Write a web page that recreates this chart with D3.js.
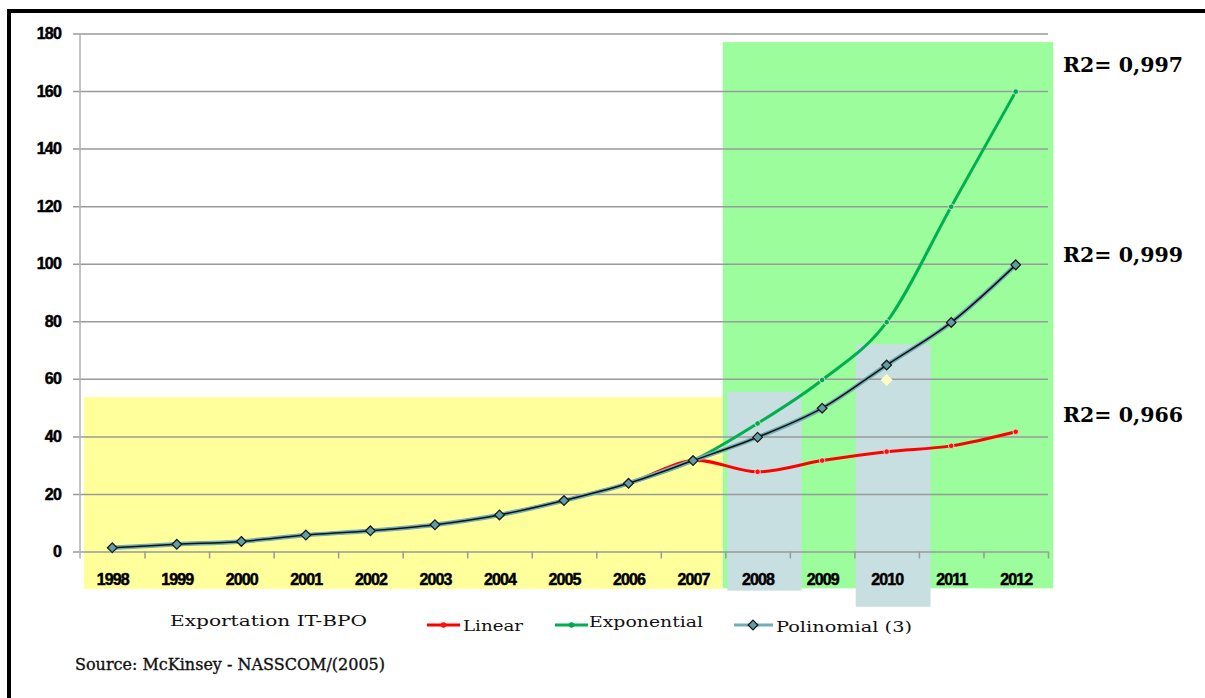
<!DOCTYPE html>
<meta charset="utf-8">
<html>
<head>
<script src="https://d3js.org/d3.v7.min.js"></script>
<style>
  body { margin: 0; background: #fff; }
  .tick text { font-family: "Liberation Sans", Arial, sans-serif; font-weight: bold; fill: #000; }
</style>
</head>
<body>
<svg id="chart" width="1205" height="698"></svg>
</body>
</html>
<script>

// Data
var years = [1998, 1999, 2000, 2001, 2002, 2003, 2004, 2005, 2006, 2007, 2008, 2009, 2010, 2011, 2012];
var polyValues   = [1.3, 2.5, 3.5, 5.7, 7.2, 9.3, 12.7, 17.7, 23.7, 31.6, 39.7, 49.8, 64.8, 79.6, 99.6];
var exportValues = [1.3, 2.5, 3.5, 5.7, 7.2, 9.3, 12.7, 17.7, 23.7, 31.6, 39.7, 49.8, 59.6, 79.6, 99.6];
var linearValues = [1.3, 2.5, 3.5, 5.7, 7.2, 9.3, 12.7, 17.7, 23.7, 31.6, 27.7, 31.6, 34.7, 36.7, 41.6];
var expValues    = [1.3, 2.5, 3.5, 5.7, 7.2, 9.3, 12.7, 17.7, 23.7, 31.6, 44.5, 59.6, 79.7, 119.8, 159.8];
var yTicks = [0, 20, 40, 60, 80, 100, 120, 140, 160, 180];

// shaded zones behind the plot: [from year, to year, low value, high value]
var zoneYellow = [1997.56, 2007.46, -13, 53.7];
var zoneGreen  = [2007.46, 2012.58, -12.8, 177];
var zoneGray1  = [2007.53, 2008.68, -13.6, 55.5];
var zoneGray2  = [2009.52, 2010.68, -19.2, 72];

var r2Labels = ["R2= 0,997", "R2= 0,999", "R2= 0,966"];
var legendNames = ["Exportation IT-BPO", "Linear", "Exponential", "Polinomial (3)"];
var sourceText = "Source: McKinsey - NASSCOM/(2005)";

var svg = d3.select("#chart");

// scales
var x = d3.scaleLinear().domain([1997.5, 2012.5]).range([80, 1048]);
var y = d3.scaleLinear().domain([0, 180]).range([551.5, 33.5]);

// frame
svg.append("line").attr("x1", 7).attr("x2", 1205).attr("y1", 11).attr("y2", 11)
  .attr("stroke", "#000").attr("stroke-width", 4);
svg.append("line").attr("x1", 9).attr("x2", 9).attr("y1", 9).attr("y2", 698)
  .attr("stroke", "#000").attr("stroke-width", 4);

// zones
function zone(z, color) {
  svg.append("rect")
    .attr("x", x(z[0])).attr("width", x(z[1]) - x(z[0]))
    .attr("y", y(z[3])).attr("height", y(z[2]) - y(z[3]))
    .attr("fill", color);
}
zone(zoneYellow, "#ffff9c");
zone(zoneGreen, "#9bfd9b");
zone(zoneGray1, "#c7dfe0");
zone(zoneGray2, "#c7dfe0");

// y axis with gridlines
var yAxis = svg.append("g")
  .attr("transform", "translate(80,0)")
  .call(d3.axisLeft(y).tickValues(yTicks).tickSize(0).tickPadding(19));
yAxis.select(".domain").remove();
yAxis.selectAll(".tick line")
  .attr("x1", -7).attr("x2", 968)
  .attr("stroke", "#9a9a9a").attr("stroke-width", 1.5);
yAxis.selectAll(".tick text")
  .attr("font-size", 16).attr("stroke", "#000").attr("stroke-width", 0.5)
  .attr("letter-spacing", -0.8);

svg.append("line")
  .attr("x1", 80).attr("x2", 80).attr("y1", y(180)).attr("y2", y(0) + 7)
  .attr("stroke", "#b0b0b0").attr("stroke-width", 1.5);

// x axis: ticks between categories, labels on them
var xTicks = svg.append("g")
  .attr("transform", "translate(0," + y(0) + ")")
  .call(d3.axisBottom(x).tickValues(years.map(function(d) { return d + 0.5; }))
    .tickSize(7).tickFormat(""));
xTicks.select(".domain").remove();
xTicks.selectAll(".tick line").attr("stroke", "#9a9a9a").attr("stroke-width", 1.5);

var xLabels = svg.append("g")
  .attr("transform", "translate(0," + y(0) + ")")
  .call(d3.axisBottom(x).tickValues(years).tickSize(0).tickPadding(22).tickFormat(d3.format("d")));
xLabels.select(".domain").remove();
xLabels.selectAll(".tick text")
  .attr("font-size", 16).attr("stroke", "#000").attr("stroke-width", 0.5)
  .attr("letter-spacing", -0.9);

// lines
var line = d3.line()
  .x(function(d, i) { return x(years[i]); })
  .y(function(d) { return y(d); })
  .curve(d3.curveCatmullRom.alpha(0));

function drawDots(values, color) {
  svg.append("g").selectAll("circle")
    .data(values).enter().append("circle")
      .attr("cx", function(d, i) { return x(years[i]); })
      .attr("cy", function(d) { return y(d); })
      .attr("r", 2.8)
      .attr("fill", color)
      .attr("stroke", "#e8f0e8").attr("stroke-width", 0.8);
}

svg.append("path").datum(expValues).attr("d", line)
  .attr("fill", "none").attr("stroke", "#00b050").attr("stroke-width", 3);
drawDots(expValues, "#00a84c");

svg.append("path").datum(linearValues).attr("d", line)
  .attr("fill", "none").attr("stroke", "#ff0000").attr("stroke-width", 3);
drawDots(linearValues, "#ff1010");

var diamond = d3.symbol().type(d3.symbolDiamond2).size(60);

// Exportation IT-BPO markers (pale yellow)
svg.append("g").selectAll("path")
  .data(exportValues).enter().append("path")
    .attr("d", d3.symbol().type(d3.symbolDiamond2).size(90))
    .attr("transform", function(d, i) { return "translate(" + x(years[i]) + "," + y(d) + ")"; })
    .attr("fill", "#ffffc4");

// Polinomial (3)
svg.append("path").datum(polyValues).attr("d", line)
  .attr("fill", "none").attr("stroke", "#72aeb6").attr("stroke-width", 4.5);
svg.append("path").datum(polyValues).attr("d", line)
  .attr("fill", "none").attr("stroke", "#111").attr("stroke-width", 1.5);
svg.append("g").selectAll("path")
  .data(polyValues).enter().append("path")
    .attr("d", diamond)
    .attr("transform", function(d, i) { return "translate(" + x(years[i]) + "," + y(d) + ")"; })
    .attr("fill", "#5f9ea6").attr("stroke", "#1a1a1a").attr("stroke-width", 1.3);

// R2 labels
var r2Base = [72, 262, 422];
svg.selectAll(".r2").data(r2Labels).enter().append("text")
  .attr("class", "r2")
  .attr("x", 1063).attr("y", function(d, i) { return r2Base[i]; })
  .attr("font-family", "'DejaVu Serif', serif").attr("font-weight", "bold")
  .attr("font-size", 20)
  .attr("textLength", 120).attr("lengthAdjust", "spacingAndGlyphs")
  .text(function(d) { return d; });

// legend
var serif = "'DejaVu Serif', 'Liberation Serif', serif";
function legendText(txt, tx, ty, len) {
  svg.append("text").attr("x", tx).attr("y", ty)
    .attr("font-family", serif).attr("font-size", 15).attr("fill", "#111")
    .attr("textLength", len).attr("lengthAdjust", "spacingAndGlyphs")
    .text(txt);
}
legendText(legendNames[0], 170, 626, 197);

svg.append("line").attr("x1", 427).attr("x2", 460).attr("y1", 625).attr("y2", 625)
  .attr("stroke", "#ff0000").attr("stroke-width", 3);
svg.append("circle").attr("cx", 443.5).attr("cy", 625).attr("r", 2.8).attr("fill", "#ff1010");
legendText(legendNames[1], 463, 631, 60);

svg.append("line").attr("x1", 555).attr("x2", 588).attr("y1", 625).attr("y2", 625)
  .attr("stroke", "#00b050").attr("stroke-width", 3);
svg.append("circle").attr("cx", 571.5).attr("cy", 625).attr("r", 2.8).attr("fill", "#00a84c");
legendText(legendNames[2], 589, 627, 114);

svg.append("line").attr("x1", 734).attr("x2", 773).attr("y1", 625).attr("y2", 625)
  .attr("stroke", "#72aeb6").attr("stroke-width", 3);
svg.append("path").attr("d", diamond).attr("transform", "translate(753,625)")
  .attr("fill", "#5f9ea6").attr("stroke", "#1a1a1a").attr("stroke-width", 1.3);
legendText(legendNames[3], 776, 632, 136);

// source
svg.append("text").attr("x", 75).attr("y", 670)
  .attr("font-family", serif).attr("font-size", 16).attr("fill", "#111")
  .attr("stroke", "#111").attr("stroke-width", 0.35)
  .attr("textLength", 310).attr("lengthAdjust", "spacing")
  .text(sourceText);

</script>
